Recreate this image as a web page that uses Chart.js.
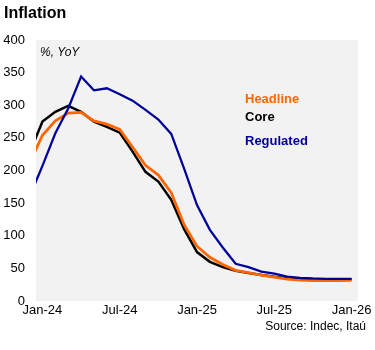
<!DOCTYPE html>
<html>
<head>
<meta charset="utf-8">
<script src="https://cdn.jsdelivr.net/npm/chart.js@4"></script>
<style>
  body { margin: 0; background: #fff; }
  #wrap { width: 375px; height: 350px; }
</style>
</head>
<body>
<div id="wrap"><canvas id="inflationChart" width="375" height="350"></canvas></div>
<script>
// monthly, Dec-23 .. Jan-26 (YoY %)
const months = ['Dec-23', 'Jan-24', 'Feb-24', 'Mar-24', 'Apr-24', 'May-24', 'Jun-24', 'Jul-24', 'Aug-24', 'Sep-24', 'Oct-24', 'Nov-24', 'Dec-24',
    'Jan-25', 'Feb-25', 'Mar-25', 'Apr-25', 'May-25', 'Jun-25', 'Jul-25', 'Aug-25', 'Sep-25', 'Oct-25', 'Nov-25', 'Dec-25', 'Jan-26'];
const headline = [211, 254, 276, 288, 289, 276, 271, 263, 236, 208, 193, 166, 117,
    84, 67, 56, 47, 43.5, 39.5, 36.6, 33.6, 31.8, 31.3, 31.2, 31.3, 31.5];
const core = [227, 275, 290, 299, 290, 275, 267, 258, 229, 198, 183, 155, 110,
    75, 60, 52, 46.5, 43, 40, 37, 35, 33.5, 32.8, 32.8, 33, 33];
const regulated = [160, 207, 257, 295, 344, 323, 326, 317, 307, 293, 278, 256, 203,
    147, 109, 82, 57, 52, 45, 42, 37.5, 35.5, 34.5, 34, 34, 34];
const tickLabels = ['Jan-24', 'Jul-24', 'Jan-25', 'Jul-25', 'Jan-26'];

const FONT = "'Liberation Sans', Arial, sans-serif";
const toPoints = arr => arr.map((v, i) => ({ x: i - 1, y: v }));

// background + texts
const decor = {
    id: 'decor',
    beforeDraw(chart) {
        const { ctx, chartArea: a } = chart;
        ctx.save();
        ctx.fillStyle = '#fff';
        ctx.fillRect(0, 0, chart.width, chart.height);
        ctx.fillStyle = '#f2f2f2';
        ctx.fillRect(a.left, a.top, a.right - a.left, a.bottom - a.top);
        ctx.restore();
    },
    afterDraw(chart) {
        const ctx = chart.ctx;
        ctx.save();
        ctx.textBaseline = 'middle';
        ctx.textAlign = 'left';
        ctx.fillStyle = '#000';
        ctx.font = 'bold 16px ' + FONT;
        ctx.fillText('Inflation', 4, 14);
        ctx.font = 'italic 12px ' + FONT;
        ctx.fillText('%, YoY', 40, 53);
        ctx.font = 'bold 13px ' + FONT;
        ctx.fillStyle = '#ff6600';
        ctx.fillText('Headline', 245, 99);
        ctx.fillStyle = '#000';
        ctx.fillText('Core', 245, 117);
        ctx.fillStyle = '#000099';
        ctx.fillText('Regulated', 245, 141);
        ctx.font = '12px ' + FONT;
        ctx.fillStyle = '#000';
        ctx.textAlign = 'right';
        ctx.fillText('Source: Indec, Itaú', 366, 327);
        ctx.restore();
    }
};

const inflationChart = new Chart(document.getElementById('inflationChart'), {
    type: 'line',
    data: {
        datasets: [
            { label: 'Regulated', data: toPoints(regulated), borderColor: '#000099', borderWidth: 2.25, order: 0 },
            { label: 'Headline', data: toPoints(headline), borderColor: '#ff6600', borderWidth: 2.75, order: 1 },
            { label: 'Core', data: toPoints(core), borderColor: '#000000', borderWidth: 2.5, order: 2 }
        ]
    },
    options: {
        responsive: false,
        animation: false,
        clip: 0,
        elements: { point: { radius: 0 }, line: { tension: 0 } },
        layout: { padding: { top: 40, left: 0, right: 17, bottom: 0 } },
        plugins: { legend: { display: false }, tooltip: { enabled: false } },
        scales: {
            x: {
                type: 'linear',
                min: -0.5,
                max: 24.5,
                grid: { display: false, drawTicks: false },
                border: { display: false },
                afterFit: s => { s.height = 49; },
                afterBuildTicks: s => {
                    s.ticks = tickLabels.map(l => ({ value: months.indexOf(l) - 1 }));
                },
                ticks: {
                    padding: 2,
                    maxRotation: 0,
                    color: '#000',
                    font: { family: FONT, size: 13 },
                    callback: v => months[v + 1]
                }
            },
            y: {
                min: 0,
                max: 400,
                grid: { display: false, drawTicks: false },
                border: { display: false },
                afterFit: s => { s.width = 36; },
                ticks: {
                    stepSize: 50,
                    padding: 11,
                    color: '#000',
                    font: { family: FONT, size: 13 }
                }
            }
        }
    },
    plugins: [decor]
});
</script>
</body>
</html>
